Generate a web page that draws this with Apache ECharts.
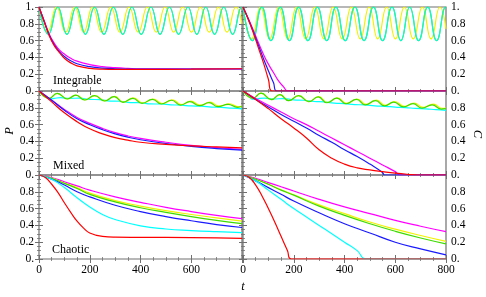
<!DOCTYPE html>
<html><head><meta charset="utf-8">
<script src="https://cdn.jsdelivr.net/npm/echarts@6/dist/echarts.min.js"></script>
<style>html,body{margin:0;padding:0;background:#fff}#c{width:486px;height:297px}</style>
</head><body><div id="c"></div>
<script>
// ---- text ----
const panelNames = ['Integrable', 'Mixed', 'Chaotic'];
const leftAxisTitle = 'P';
const rightAxisTitle = 'C';
const bottomAxisTitle = 't';
const tMin = 0, tMax = 800, tStep = 200;
const vMin = 0, vMax = 1, vStep = 0.2;

// ---- Integrable, P (left) ----
const intP_yellow = [[0,1],[34,0.70],[69,1],[105,0.70],[141,1],[176,0.70],[211,1],[247,0.70],[283,1],[319,0.70],[355,1],[391,0.70],[427,1],[462,0.70],[497,1],[531,0.70],[566,1],[601,0.70],[636,1],[671,0.70],[707,1],[741,0.70],[776,1],[800,0.80]];
const intP_cyan = [[0,1],[37,0.675],[74,1],[110,0.675],[147,1],[183,0.675],[219,1],[256,0.675],[293,1],[330,0.675],[366,1],[403,0.675],[441,1],[477,0.675],[514,1],[550,0.675],[587,1],[622,0.675],[657,1],[692,0.675],[728,1],[763,0.675],[799,1],[800,1]];
const intP_red = [[0,1],[20,0.83],[40,0.66],[60,0.54],[80,0.46],[100,0.39],[125,0.335],[150,0.30],[200,0.27],[250,0.26],[300,0.258],[400,0.258],[600,0.26],[800,0.265]];
const intP_blue = [[0,1],[20,0.83],[40,0.67],[60,0.55],[80,0.47],[100,0.41],[125,0.36],[150,0.325],[200,0.29],[250,0.272],[300,0.265],[400,0.262],[800,0.262]];
const intP_magenta = [[0,1],[20,0.84],[40,0.68],[60,0.57],[80,0.49],[100,0.44],[125,0.39],[150,0.355],[200,0.315],[250,0.29],[300,0.278],[350,0.27],[400,0.265],[800,0.262]];

// ---- Integrable, C (right) ----
const intC_yellow = [[0,1],[34,0.62],[69,1],[105,0.62],[141,1],[176,0.62],[211,1],[247,0.62],[283,1],[319,0.62],[355,1],[391,0.62],[427,1],[462,0.62],[497,1],[531,0.62],[566,1],[601,0.62],[636,1],[671,0.62],[707,1],[741,0.62],[776,1],[800,0.74]];
const intC_cyan = [[0,1],[37,0.60],[74,1],[110,0.60],[147,1],[183,0.60],[219,1],[256,0.60],[293,1],[330,0.60],[366,1],[403,0.60],[441,1],[477,0.60],[514,1],[550,0.60],[587,1],[622,0.60],[657,1],[692,0.60],[728,1],[763,0.60],[799,1],[800,1]];
const intC_red = [[0,1],[20,0.86],[40,0.70],[60,0.52],[80,0.34],[100,0.14],[114,0],[800,0]];
const intC_blue = [[0,1],[20,0.86],[40,0.71],[60,0.55],[80,0.39],[100,0.24],[120,0.10],[134,0],[800,0]];
const intC_magenta = [[0,1],[20,0.87],[40,0.73],[60,0.58],[80,0.44],[100,0.32],[120,0.22],[140,0.12],[160,0.05],[177,0],[800,0]];

// ---- Mixed, P (left) ----
const mixP_green = [[0,1],[40,0.913],[72,0.972],[112,0.905],[145,0.952],[180,0.893],[219,0.944],[259,0.881],[296,0.933],[331,0.865],[370,0.913],[406,0.853],[447,0.90],[482,0.845],[522,0.89],[558,0.833],[594,0.873],[633,0.825],[670,0.861],[705,0.813],[745,0.841],[782,0.806],[800,0.815]];
const mixP_yellow = [[0,1],[40,0.913],[72,0.972],[112,0.905],[146,0.952],[181,0.894],[220,0.945],[260,0.883],[298,0.935],[333,0.868],[372,0.917],[409,0.857],[450,0.905],[486,0.85],[526,0.895],[562,0.838],[598,0.879],[637,0.831],[674,0.867],[710,0.82],[750,0.848],[787,0.812],[800,0.822]];
const mixP_cyan = [[0,1],[20,0.95],[40,0.905],[60,0.912],[85,0.92],[120,0.912],[160,0.915],[200,0.90],[240,0.898],[280,0.88],[320,0.878],[360,0.862],[400,0.86],[440,0.846],[480,0.845],[520,0.835],[560,0.832],[600,0.822],[640,0.82],[680,0.808],[720,0.805],[760,0.795],[800,0.787]];
const mixP_red = [[0,1],[50,0.87],[100,0.74],[150,0.635],[200,0.55],[250,0.49],[300,0.445],[350,0.415],[400,0.39],[500,0.365],[600,0.347],[700,0.335],[800,0.323]];
const mixP_blue = [[0,1],[50,0.89],[100,0.77],[150,0.67],[200,0.60],[250,0.54],[300,0.49],[350,0.45],[400,0.42],[500,0.375],[600,0.34],[700,0.315],[800,0.297]];
const mixP_magenta = [[0,1],[50,0.89],[100,0.78],[150,0.685],[200,0.615],[250,0.555],[300,0.505],[350,0.465],[400,0.435],[500,0.39],[600,0.352],[700,0.325],[800,0.305]];

// ---- Mixed, C (right) ----
const mixC_green = [[0,1],[40,0.913],[71,0.975],[112,0.897],[145,0.958],[180,0.885],[219,0.944],[259,0.872],[296,0.93],[331,0.86],[370,0.915],[406,0.848],[447,0.90],[482,0.835],[522,0.885],[558,0.822],[594,0.868],[633,0.81],[670,0.85],[705,0.797],[745,0.835],[782,0.785],[800,0.79]];
const mixC_yellow = [[0,1],[40,0.913],[71,0.975],[112,0.897],[146,0.958],[181,0.886],[220,0.945],[260,0.874],[298,0.932],[333,0.863],[372,0.919],[409,0.852],[450,0.905],[486,0.84],[526,0.891],[562,0.828],[598,0.875],[637,0.817],[674,0.857],[710,0.805],[750,0.843],[787,0.792],[800,0.797]];
const mixC_cyan = [[0,1],[20,0.95],[40,0.90],[60,0.91],[85,0.915],[120,0.905],[160,0.91],[200,0.895],[240,0.89],[280,0.875],[320,0.87],[360,0.855],[400,0.85],[440,0.838],[480,0.835],[520,0.822],[560,0.818],[600,0.808],[640,0.803],[680,0.792],[720,0.788],[760,0.778],[800,0.77]];
const mixC_red = [[0,1],[50,0.90],[100,0.79],[150,0.67],[200,0.56],[250,0.44],[300,0.30],[350,0.20],[400,0.13],[450,0.085],[500,0.06],[550,0.04],[600,0.022],[650,0.008],[690,0],[800,0]];
const mixC_blue = [[0,1],[50,0.90],[100,0.81],[150,0.72],[200,0.64],[250,0.56],[300,0.47],[350,0.39],[400,0.30],[450,0.22],[500,0.13],[550,0.03],[558,0],[800,0]];
const mixC_magenta = [[0,1],[50,0.91],[100,0.83],[150,0.75],[200,0.67],[250,0.60],[300,0.52],[350,0.44],[400,0.36],[450,0.28],[500,0.20],[550,0.12],[600,0.04],[620,0],[800,0]];

// ---- Chaotic, P (left) ----
const chaP_red = [[0,1],[25,0.97],[50,0.89],[75,0.79],[100,0.67],[125,0.555],[150,0.45],[175,0.37],[200,0.31],[250,0.27],[300,0.26],[400,0.258],[600,0.255],[800,0.245]];
const chaP_cyan = [[0,1],[50,0.95],[100,0.85],[150,0.73],[200,0.62],[250,0.53],[300,0.47],[400,0.395],[500,0.357],[600,0.338],[700,0.325],[800,0.315]];
const chaP_blue = [[0,1],[50,0.95],[100,0.88],[150,0.80],[200,0.74],[300,0.64],[400,0.565],[500,0.505],[600,0.455],[700,0.41],[800,0.375]];
const chaP_green = [[0,1],[50,0.96],[100,0.90],[150,0.84],[200,0.77],[300,0.68],[400,0.61],[500,0.555],[600,0.505],[700,0.46],[800,0.42]];
const chaP_yellow = [[0,1],[50,0.96],[100,0.905],[150,0.85],[200,0.785],[300,0.695],[400,0.63],[500,0.575],[600,0.53],[700,0.49],[800,0.45]];
const chaP_magenta = [[0,1],[50,0.97],[100,0.92],[150,0.87],[200,0.82],[300,0.74],[400,0.675],[500,0.615],[600,0.565],[700,0.52],[800,0.48]];

// ---- Chaotic, C (right) ----
const chaC_red = [[0,1],[25,0.97],[50,0.88],[75,0.75],[100,0.60],[125,0.44],[150,0.27],[175,0.10],[190,0],[800,0]];
const chaC_cyan = [[0,1],[50,0.93],[100,0.82],[150,0.71],[200,0.60],[250,0.50],[300,0.40],[350,0.30],[400,0.20],[450,0.10],[485,0],[800,0]];
const chaC_blue = [[0,1],[50,0.93],[100,0.85],[150,0.77],[200,0.69],[300,0.55],[400,0.42],[500,0.31],[600,0.20],[700,0.12],[800,0.05]];
const chaC_green = [[0,1],[50,0.95],[100,0.89],[150,0.82],[200,0.76],[300,0.63],[400,0.52],[500,0.42],[600,0.33],[700,0.25],[800,0.18]];
const chaC_yellow = [[0,1],[50,0.95],[100,0.89],[150,0.825],[200,0.765],[300,0.645],[400,0.54],[500,0.44],[600,0.355],[700,0.28],[800,0.21]];
const chaC_magenta = [[0,1],[50,0.96],[100,0.91],[150,0.86],[200,0.81],[300,0.71],[400,0.62],[500,0.54],[600,0.46],[700,0.39],[800,0.325]];

// ---- styling ----
const COL = {red:'#ff0000', blue:'#1a1aff', magenta:'#ff00ff', cyan:'#00ffff', yellow:'#f2f200', green:'#3ddc00'};
const FRAME = '#707070';
const FONT = 'Liberation Serif';
const LW = 1.2;

// panel layout
const colLeft = [39, 243], colW = 203;
const rowTop = [7, 91, 175], rowH = 84;

const grids = [], xAxes = [], yAxes = [], series = [];
for (let r = 0; r < 3; r++) {
  for (let c = 0; c < 2; c++) {
    grids.push({left: colLeft[c], top: rowTop[r], width: colW, height: rowH,
      show: true, borderColor: FRAME, borderWidth: 1.2, backgroundColor: 'transparent'});
  }
}
const tick = {show: true, inside: true, length: 4, lineStyle: {color: FRAME, width: 1}};
const minor = {show: true, splitNumber: 4, length: 2, lineStyle: {color: FRAME, width: 0.8}};
function yFmt(row) {
  return v => {
    if (Math.abs(v - 1) < 1e-6) return row === 0 ? '1.' : '';
    if (Math.abs(v) < 1e-6) return '0.';
    return v.toFixed(1);
  };
}
for (let g = 0; g < 6; g++) {
  const r = Math.floor(g / 2), c = g % 2;
  xAxes.push({type: 'value', gridIndex: g, min: tMin, max: tMax, interval: tStep, position: 'bottom',
    axisLine: {show: false}, axisTick: tick, minorTick: minor, splitLine: {show: false},
    axisLabel: {show: r === 2, margin: 5, fontFamily: FONT, fontSize: 11.5, color: '#000',
      formatter: v => (c === 0 && v === tMax) ? '' : String(v)}});
  yAxes.push({type: 'value', gridIndex: g, min: vMin, max: vMax, interval: vStep, position: c === 0 ? 'left' : 'right',
    axisLine: {show: false}, axisTick: tick, minorTick: minor, splitLine: {show: false},
    axisLabel: {show: true, margin: 5, fontFamily: FONT, fontSize: 11.5, color: '#000', formatter: yFmt(r)}});
}
for (let g = 0; g < 6; g++) {
  const c = g % 2;
  xAxes.push({type: 'value', gridIndex: g, min: tMin, max: tMax, interval: tStep, position: 'top',
    axisLine: {show: false}, axisTick: tick, minorTick: minor, splitLine: {show: false}, axisLabel: {show: false}});
  yAxes.push({type: 'value', gridIndex: g, min: vMin, max: vMax, interval: vStep, position: c === 0 ? 'right' : 'left',
    axisLine: {show: false}, axisTick: tick, minorTick: minor, splitLine: {show: false}, axisLabel: {show: false}});
}
function add(g, data, color, opacity) {
  series.push({type: 'line', xAxisIndex: g, yAxisIndex: g, data: data, symbol: 'none', smooth: 0.5,
    lineStyle: {color: color, width: LW, opacity: opacity == null ? 1 : opacity}, silent: true, animation: false});
}
// Integrable (green lies under cyan, giving the turquoise tint)
add(0, intP_yellow, COL.yellow); add(0, intP_cyan, COL.green); add(0, intP_cyan, COL.cyan, 0.85);
add(0, intP_magenta, COL.magenta); add(0, intP_blue, COL.blue); add(0, intP_red, COL.red);
add(1, intC_yellow, COL.yellow); add(1, intC_cyan, COL.green); add(1, intC_cyan, COL.cyan, 0.85);
add(1, intC_magenta, COL.magenta); add(1, intC_blue, COL.blue); add(1, intC_red, COL.red);
// Mixed
add(2, mixP_cyan, COL.cyan); add(2, mixP_yellow, COL.yellow); add(2, mixP_green, COL.green);
add(2, mixP_magenta, COL.magenta); add(2, mixP_blue, COL.blue); add(2, mixP_red, COL.red);
add(3, mixC_cyan, COL.cyan); add(3, mixC_yellow, COL.yellow); add(3, mixC_green, COL.green);
add(3, mixC_magenta, COL.magenta); add(3, mixC_blue, COL.blue); add(3, mixC_red, COL.red);
// Chaotic
add(4, chaP_magenta, COL.magenta); add(4, chaP_yellow, COL.yellow); add(4, chaP_green, COL.green);
add(4, chaP_blue, COL.blue); add(4, chaP_cyan, COL.cyan); add(4, chaP_red, COL.red);
add(5, chaC_magenta, COL.magenta); add(5, chaC_yellow, COL.yellow); add(5, chaC_green, COL.green);
add(5, chaC_blue, COL.blue); add(5, chaC_cyan, COL.cyan); add(5, chaC_red, COL.red);

const txt = (text, x, y, extra) => Object.assign({type: 'text', x: x, y: y, z: 100,
  style: Object.assign({text: text, fontFamily: FONT, fontSize: 12, fill: '#000', textAlign: 'left', textVerticalAlign: 'middle'}, extra || {})});
const graphics = [
  txt(panelNames[0], 53, 81),
  txt(panelNames[1], 53, 165.5),
  txt(panelNames[2], 52, 250),
  Object.assign(txt(leftAxisTitle, 10, 131, {fontStyle: 'italic', fontSize: 12.5, textAlign: 'center'}), {rotation: Math.PI / 2}),
  Object.assign(txt(rightAxisTitle, 477, 134, {fontStyle: 'italic', fontSize: 12.5, textAlign: 'center'}), {rotation: -Math.PI / 2}),
  txt(bottomAxisTitle, 243, 287, {fontStyle: 'italic', fontSize: 12.5, textAlign: 'center'})
];

const chart = echarts.init(document.getElementById('c'), null, {renderer: 'canvas'});
chart.setOption({animation: false, backgroundColor: '#fff', grid: grids, xAxis: xAxes, yAxis: yAxes, series: series, graphic: graphics});
</script></body></html>
